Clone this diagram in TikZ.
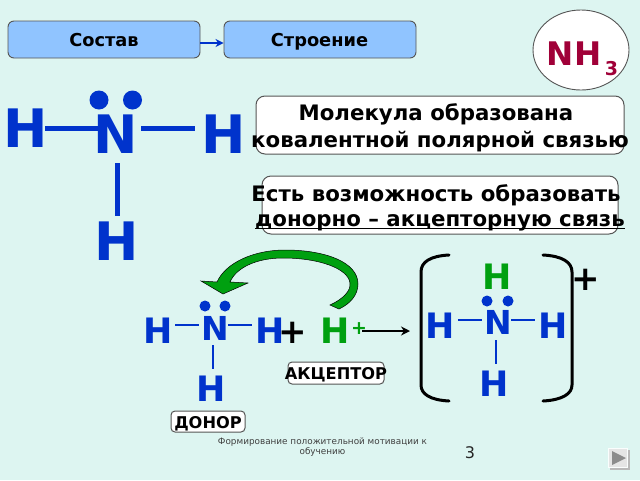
\documentclass[tikz,border=0pt]{standalone}
\usepackage{fontspec}
\setmainfont{DejaVu Sans}
\usetikzlibrary{shapes.geometric,arrows.meta}
\definecolor{bg}{HTML}{DDF5F1}
\definecolor{navy}{HTML}{0033CC}
\definecolor{gr}{HTML}{00A010}
\definecolor{wine}{HTML}{A00038}
\definecolor{sky}{HTML}{90C4FF}
\definecolor{edge}{HTML}{555555}
\newcommand{\fsz}[1]{\fontsize{#1}{#1}\selectfont\bfseries}
\tikzset{
 txt/.style={inner sep=0pt,anchor=base,text=black},
 bluebox/.style={draw=edge,line width=0.9pt,fill=sky,rounded corners=6pt,inner sep=0pt,minimum width=192pt,minimum height=37pt},
 whitebox/.style={draw=edge,line width=1pt,fill=white,rounded corners=9pt,inner sep=0pt},
 tagbox/.style={draw=edge,line width=1pt,fill=white,rounded corners=4pt,inner sep=0pt},
 atomA/.style={txt,text=navy,font=\fsz{53}},
 atomB/.style={txt,text=navy,font=\fsz{35}},
 atomN/.style={txt,text=navy,font=\fsz{33}},
 bondA/.style={draw=navy,line width=5pt},
 bondB/.style={draw=navy,line width=2.8pt},
 elec/.style={circle,fill=navy,inner sep=0pt},
 brk/.style={draw=black,line width=3pt,line cap=round},
}
\begin{document}
\begin{tikzpicture}[x=1pt,y=-1pt]
\useasboundingbox (0,0) rectangle (640,480);
\fill[bg] (0,0) rectangle (640,480);
% top boxes
\node[bluebox] (sostav) at (104,39.5) {};
\node[bluebox] (stroenie) at (320,39.5) {};
\node[txt,font=\fsz{17.8}] (t1) at (104,46) {Состав};
\node[txt,font=\fsz{17.8}] (t2) at (319.5,46) {Строение};
\draw[draw=navy,line width=2pt,-{Stealth[length=8pt,width=8pt]}] ([yshift=-3.5]sostav.east) -- ([yshift=-3.5]stroenie.west);
% NH3
\node[ellipse,draw=edge,line width=0.9pt,fill=white,minimum width=96pt,minimum height=80pt,inner sep=0pt] (nh) at (581,50) {};
\node[txt,text=wine,font=\fsz{32.5}] (nh3) at (574,65.5) {NH};
\node[txt,text=wine,font=\fsz{19}] (sub3) at (611.5,75) {3};
% big molecule
\node[atomA] (hL) at (26,147) {H};
\node[atomA] (nA) at (116,153) {N};
\node[atomA] (hR) at (223.5,153) {H};
\node[atomA] (hD) at (116.5,260) {H};
\draw[bondA] ([shift={(-3,-19)}]hL.base east) -- ([shift={(5.4,-25)}]nA.base west);
\draw[bondA] ([shift={(3,-25)}]nA.base east) -- ([shift={(-6,-25)}]hR.base west);
\draw[bondA] ([shift={(1,10)}]nA.base) -- ([shift={(0.5,-44)}]hD.base);
\node[elec,minimum size=19pt] (e1) at (99,100) {};
\node[elec,minimum size=19pt] (e2) at (132.5,100) {};
% text boxes
\node[whitebox,minimum width=368pt,minimum height=58pt] (b1) at (440,125) {};
\node[whitebox,minimum width=356pt,minimum height=58pt] (b2) at (440,205) {};
\node[txt,font=\fsz{21.3}] (l1) at (436,120) {Молекула образована};
\node[txt,font=\fsz{21.3}] (l2) at (440,147) {ковалентной полярной связью};
\node[txt,font=\fsz{21.3}] (l3) at (436,201) {Есть возможность образовать};
\node[txt,font=\fsz{21.3}] (l4) at (440,226.5) {донорно – акцепторную связь};
\draw[line width=1.4pt] ([yshift=-2]l4.base west) -- ([yshift=-2]l4.base east);
% green arrow
\draw[draw=black,line width=0.5pt,fill=gr] (223,294) -- (201,281) -- (217,282)
 .. controls (226,262) and (255,250) .. (285,250)
 .. controls (325,250) and (358,262) .. (358,284)
 .. controls (358,295) and (350,304) .. (339,309)
 -- (330,305)
 .. controls (343,299) and (351,291) .. (350,283)
 .. controls (348,268) and (318,258) .. (283,258)
 .. controls (256,258) and (236,268) .. (230,282)
 -- (248,283) -- cycle;
% middle molecule
\node[atomB] (h2L) at (158,343) {H};
\node[atomN] (n2) at (215,340) {N};
\node[atomB] (h2R) at (270,343) {H};
\node[atomB] (h2D) at (211,401) {H};
\draw[bondB] ([shift={(2.5,-18)}]h2L.base east) -- ([shift={(-2,-15)}]n2.base west);
\draw[bondB] ([shift={(-1,-15)}]n2.base east) -- ([shift={(-3.4,-18)}]h2R.base west);
\draw[bondB] ([shift={(-2,5)}]n2.base) -- ([shift={(2,-32)}]h2D.base);
\node[elec,minimum size=11pt] (e3) at (205,306) {};
\node[elec,minimum size=11pt] (e4) at (225,306) {};
\node[txt,font=\fsz{34}] (plus1) at (293,343) {+};
\node[atomB,text=gr] (hp) at (335.5,343) {H};
\node[txt,text=gr,font=\fsz{19}] (hpp) at (359,334) {+};
\coordinate (rArrow) at (410,331);
\draw[line width=2.8pt,-{Stealth[length=9pt,width=9pt]}] (hp.east |- rArrow) ++(12,0) -- (rArrow);
% tags
\node[tagbox,minimum width=96pt,minimum height=22pt] (a1) at (336,373) {};
\node[txt,font=\fsz{16.2}] (a2) at (336,379) {АКЦЕПТОР};
\node[tagbox,minimum width=74pt,minimum height=21pt] (d1) at (208,421.5) {};
\node[txt,font=\fsz{16.2}] (d2) at (208,428) {ДОНОР};
% right molecule
\node[atomB,text=gr] (h3T) at (497.5,289) {H};
\node[atomB] (h3L) at (440.5,338) {H};
\node[atomN] (n3) at (498,334) {N};
\node[atomB] (h3R) at (553,338) {H};
\node[atomB] (h3D) at (494,396) {H};
\draw[bondB] ([shift={(2.5,-18)}]h3L.base east) -- ([shift={(-2,-14)}]n3.base west);
\draw[bondB] ([shift={(-1,-14)}]n3.base east) -- ([shift={(-3.4,-18)}]h3R.base west);
\draw[bondB] ([shift={(-2,6)}]n3.base) -- ([shift={(2,-32)}]h3D.base);
\node[elec,minimum size=11pt] (e5) at (487,301) {};
\node[elec,minimum size=11pt] (e6) at (508,301) {};
\node[txt,font=\fsz{34}] (plus2) at (586,290.5) {+};
% brackets
\draw[brk] (449,255) .. controls (430,256) and (421,262) .. (421,272) -- (421,385) .. controls (421,394) and (430,400) .. (449,401);
\draw[brk] (543,255) .. controls (562,256) and (572,262) .. (572,272) -- (572,385) .. controls (572,394) and (562,400) .. (543,401);
% footer
\node[txt,text=black!75,font=\fontsize{8.85}{8.85}\selectfont] (f1) at (322.5,444) {Формирование положительной мотивации к};
\node[txt,text=black!75,font=\fontsize{8.85}{8.85}\selectfont] (f2) at (322.5,454.5) {обучению};
\node[txt,text=black!85,font=\fontsize{16}{16}\selectfont] (pg) at (470,458) {3};
% button
\fill[gray!55] (610,450) rectangle (630,470);
\fill[white!85!bg] (608,448) rectangle (628,468);
\fill[black!10] (609,449) rectangle (627,467);
\fill[black!45] (612,451) -- (626,458) -- (612,465) -- cycle;
\end{tikzpicture}
\end{document}
